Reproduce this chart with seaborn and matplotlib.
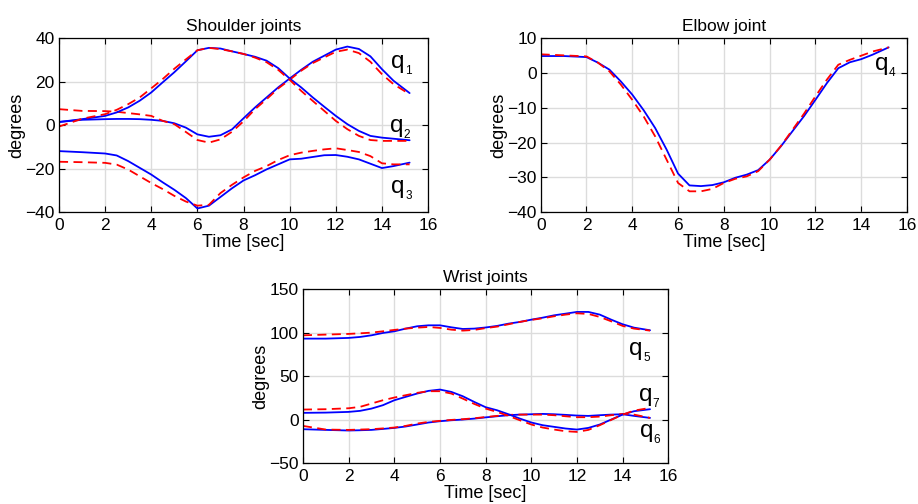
import matplotlib
matplotlib.use("Agg")
import matplotlib.pyplot as plt
import seaborn as sns

# time samples [sec]
t = [0, 1, 2, 2.5, 3, 3.5, 4, 4.5, 5, 5.5, 6, 6.5, 7, 7.5, 8, 8.5, 9, 9.5,
     10, 10.5, 11, 11.5, 12, 12.5, 13, 13.5, 14, 14.5, 15.2]

# shoulder joints: measured (blue) and reference (red dashed)
q1 = [1.5, 2.5, 2.8, 2.9, 2.9, 2.8, 2.5, 2.0, 0.9, -1.1, -4.2, -5.3, -4.6, -1.9, 3.2,
      8.2, 12.8, 17.4, 21.5, 25.5, 29.2, 32.0, 34.8, 36.2, 35.1, 31.7, 25.8, 20.5, 14.8]
q1_ref = [7.4, 6.6, 6.5, 6.2, 5.6, 5.0, 4.3, 2.0, 0.5, -3.1, -6.8, -8.0, -6.5, -3.0, 1.8,
          7.4, 12.0, 16.9, 20.9, 25.1, 28.6, 31.2, 33.8, 34.8, 33.2, 29.2, 23.5, 18.9, 14.3]
q2 = [1.5, 2.8, 4.3, 5.9, 8.2, 11.3, 15.1, 19.8, 24.4, 29.4, 34.5, 35.6, 35.3, 34.0, 32.8,
      31.5, 29.7, 26.3, 21.5, 17.4, 12.8, 8.5, 4.3, 0.5, -2.6, -4.9, -5.7, -6.2, -6.9]
q2_ref = [-0.6, 3.0, 5.1, 7.1, 9.7, 12.8, 17.0, 21.3, 26.0, 30.3, 34.5, 35.6, 35.0, 34.0, 32.8,
          31.1, 29.0, 25.5, 20.9, 15.8, 11.2, 6.6, 2.0, -1.8, -4.9, -6.8, -7.2, -7.2, -7.2]
q3 = [-11.9, -12.4, -13.0, -13.9, -16.5, -19.6, -22.7, -26.3, -29.7, -33.5, -38.3, -37.0,
      -33.0, -29.0, -25.4, -23.0, -20.3, -18.0, -15.7, -15.4, -14.6, -13.8, -13.7, -14.5,
      -15.7, -17.7, -19.7, -18.8, -17.2]
q3_ref = [-16.8, -17.0, -17.3, -18.1, -20.4, -23.5, -26.6, -29.4, -32.5, -35.1, -37.0, -36.6,
          -31.2, -27.4, -24.0, -21.0, -18.8, -16.0, -13.8, -12.6, -11.8, -11.1, -10.6, -11.4,
          -12.3, -14.2, -17.5, -18.0, -18.0]

# elbow joint
q4 = [4.9, 4.9, 4.6, 3.0, 1.0, -2.4, -6.2, -10.7, -15.8, -22.0, -28.9, -32.3, -32.5, -32.2,
      -31.4, -30.1, -29.2, -27.9, -24.9, -21.0, -16.7, -12.4, -7.7, -2.9, 1.4, 3.1, 4.0, 5.3, 7.4]
q4_ref = [5.4, 5.1, 4.8, 3.0, 0.5, -3.3, -7.7, -12.5, -18.2, -24.9, -31.6, -34.0, -34.0, -33.3,
          -31.6, -30.4, -29.7, -28.2, -24.9, -20.9, -16.3, -11.7, -6.7, -1.9, 2.4, 3.8, 5.0, 6.2, 7.4]

# wrist joints
q5 = [93.1, 93.1, 93.9, 95.0, 96.9, 99.6, 101.5, 104.6, 107.3, 108.4, 108.4, 106.1, 104.2,
      104.6, 105.9, 107.7, 110.3, 112.3, 114.9, 117.2, 119.9, 121.8, 123.8, 123.8, 120.7,
      114.9, 109.6, 105.7, 102.7]
q5_ref = [96.9, 97.7, 98.5, 99.2, 100.0, 101.5, 103.1, 104.6, 105.7, 106.5, 105.4, 103.4, 102.3,
          103.1, 105.2, 106.9, 109.6, 112.3, 114.6, 116.5, 118.8, 120.7, 122.2, 121.5, 118.0,
          113.0, 107.7, 104.6, 102.3]
q6 = [-11.1, -11.9, -12.6, -12.3, -11.9, -10.8, -9.6, -8.0, -5.7, -3.4, -1.9, -0.8, 0.0, 1.1,
      2.5, 3.8, 5.0, 5.7, 6.1, 6.5, 6.1, 5.4, 4.6, 4.2, 5.0, 5.7, 6.1, 4.2, 1.9]
q6_ref = [-7.3, -11.5, -11.9, -11.5, -11.1, -10.2, -9.2, -7.3, -4.6, -2.7, -1.5, -0.4, 0.4, 1.5,
          2.9, 4.2, 5.4, 5.7, 5.7, 5.7, 5.0, 3.8, 2.7, 2.7, 3.4, 5.0, 6.5, 5.7, 1.9]
q7 = [7.7, 8.0, 8.8, 10.0, 12.6, 16.5, 22.2, 26.1, 29.9, 33.0, 34.5, 31.8, 26.8, 20.3, 14.2,
      10.7, 6.1, 1.1, -3.4, -6.5, -8.4, -10.3, -11.5, -9.6, -5.7, 0.0, 5.7, 9.6, 11.9]
q7_ref = [11.5, 11.9, 13.0, 14.6, 18.4, 22.2, 25.3, 28.0, 30.7, 32.6, 32.6, 29.9, 24.1, 18.0,
          12.6, 8.8, 4.2, -0.8, -5.7, -9.2, -11.5, -13.4, -14.2, -11.9, -6.5, -0.4, 5.7, 10.3, 13.4]

x_ticks = [0, 2, 4, 6, 8, 10, 12, 14, 16]

panels = [
    {
        "title": "Shoulder joints",
        "rect": [0.0643, 0.579, 0.402, 0.345],
        "series": [(q1, q1_ref), (q2, q2_ref), (q3, q3_ref)],
        "ylim": (-40, 40), "yticks": [-40, -20, 0, 20, 40],
        "labels": [("1", 14.4, 26.3), ("2", 14.35, -3.2), ("3", 14.4, -31.2)],
    },
    {
        "title": "Elbow joint",
        "rect": [0.589, 0.579, 0.399, 0.345],
        "series": [(q4, q4_ref)],
        "ylim": (-40, 10), "yticks": [-40, -30, -20, -10, 0, 10],
        "labels": [("4", 14.6, 0.9)],
    },
    {
        "title": "Wrist joints",
        "rect": [0.330, 0.0813, 0.398, 0.345],
        "series": [(q5, q5_ref), (q6, q6_ref), (q7, q7_ref)],
        "ylim": (-50, 150), "yticks": [-50, 0, 50, 100, 150],
        "labels": [("5", 14.3, 74.5), ("7", 14.7, 21.8), ("6", 14.75, -19.5)],
    },
]


def main():
    sns.set_theme(style="whitegrid")
    plt.rcParams.update({
        "font.family": ["Liberation Sans", "DejaVu Sans"],
        "axes.edgecolor": "black",
        "axes.linewidth": 0.9,
        "grid.color": "#dcdcdc",
        "grid.linewidth": 1.0,
        "xtick.direction": "in",
        "ytick.direction": "in",
        "xtick.top": True,
        "ytick.right": True,
        "xtick.bottom": True,
        "ytick.left": True,
        "xtick.major.size": 4,
        "ytick.major.size": 4,
        "xtick.major.width": 0.8,
        "ytick.major.width": 0.8,
        "xtick.major.pad": 4,
        "ytick.major.pad": 3,
        "xtick.color": "black",
        "ytick.color": "black",
        "text.color": "black",
        "axes.labelcolor": "black",
    })

    fig = plt.figure(figsize=(9.18, 5.04), dpi=100)

    for p in panels:
        ax = fig.add_axes(p["rect"])
        for actual, ref in p["series"]:
            sns.lineplot(x=t, y=actual, ax=ax, color="blue", linewidth=1.3, sort=False)
            sns.lineplot(x=t, y=ref, ax=ax, color="red", linewidth=1.3, sort=False,
                         linestyle=(0, (5, 3)))
        ax.set_xlim(0, 16)
        ax.set_ylim(*p["ylim"])
        ax.set_xticks(x_ticks)
        ax.set_yticks(p["yticks"])
        ax.tick_params(labelsize=12.5)
        ax.set_xlabel("Time [sec]", fontsize=13, labelpad=1)
        ax.set_ylabel("degrees", fontsize=13, labelpad=0)
        ax.set_title(p["title"], fontsize=12.5, pad=5)
        for spine in ax.spines.values():
            spine.set_visible(True)
            spine.set_color("black")
        for sub, xq, yq in p["labels"]:
            ax.text(xq, yq, "q", fontsize=17.5, va="baseline", ha="left")
            ax.annotate(sub, xy=(xq, yq), xytext=(10, -4.5), textcoords="offset points",
                        fontsize=8.5, va="baseline", ha="left")

    fig.savefig("out.png", dpi=100)
    plt.close(fig)


if __name__ == "__main__":
    main()
